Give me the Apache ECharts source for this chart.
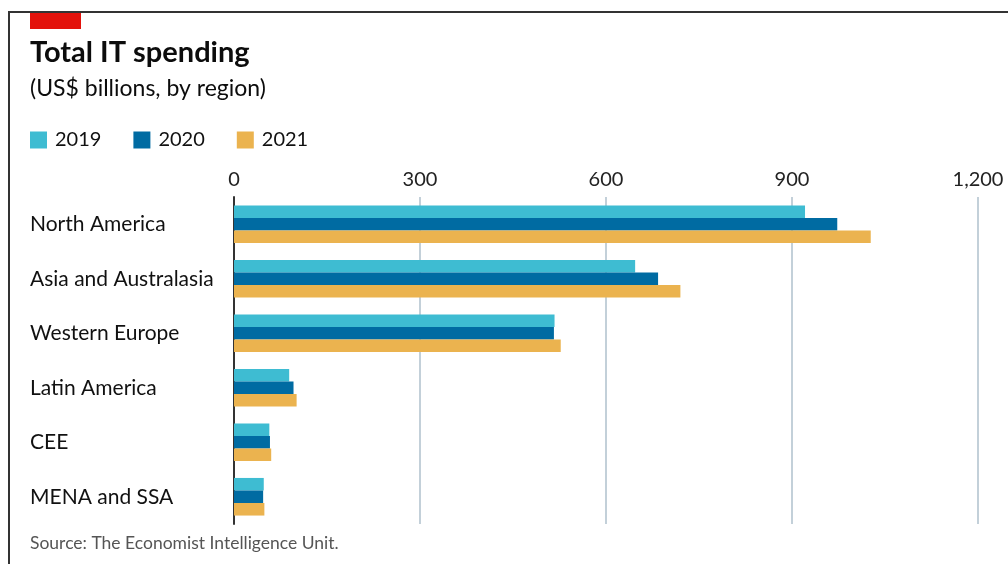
<!DOCTYPE html>
<html>
<head>
    <meta charset="UTF-8">
    <title>Total IT spending</title>
    <script src="https://cdn.jsdelivr.net/npm/echarts@6/dist/echarts.min.js"></script>
    <style>
        html, body { margin: 0; padding: 0; background: #fff; }
        #main { width: 1008px; height: 564px; }
    </style>
</head>
<body>
<div id="main"></div>
<script type="text/javascript">
    // data (US$ billions)
    var regions = ['North America', 'Asia and Australasia', 'Western Europe', 'Latin America', 'CEE', 'MENA and SSA'];
    var years = ['2019', '2020', '2021'];
    var spend2019 = [921, 647, 517, 89, 57, 48];
    var spend2020 = [973, 684, 516, 96, 58, 47];
    var spend2021 = [1027, 720, 527, 101, 60, 49];
    var xTicks = [0, 300, 600, 900, 1200];

    var colors = ['#3ebcd2', '#006ba2', '#ebb34f'];
    var font = 'Lato';

    var myChart = echarts.init(document.getElementById('main'));

    var option = {
        animation: false,
        color: colors,
        textStyle: { fontFamily: font },
        title: [
            {
                text: 'Total IT spending',
                left: 30, top: 38, padding: 0,
                textStyle: { fontSize: 29, fontWeight: 'bold', color: '#0c0c0c', fontFamily: font }
            },
            {
                text: '(US$ billions, by region)',
                left: 30, top: 77, padding: 0,
                textStyle: { fontSize: 23, fontWeight: 'normal', color: '#0c0c0c', fontFamily: font }
            },
            {
                text: 'Source: The Economist Intelligence Unit.',
                left: 30, top: 534, padding: 0,
                textStyle: { fontSize: 17.5, fontWeight: 'normal', color: '#555', fontFamily: font }
            }
        ],
        legend: {
            data: years,
            left: 30, top: 130, padding: 0,
            icon: 'rect',
            itemWidth: 17, itemHeight: 17,
            itemGap: 32,
            textStyle: { fontSize: 20, color: '#111', padding: [0, 0, 0, 3], fontFamily: font }
        },
        grid: { left: 234, width: 744, top: 197, height: 327 },
        xAxis: {
            type: 'value',
            position: 'top',
            min: xTicks[0],
            max: xTicks[xTicks.length - 1],
            interval: 300,
            axisLine: { show: false },
            axisTick: { show: false },
            axisLabel: {
                margin: 7,
                fontSize: 20,
                color: '#222',
                formatter: function (v) { return v.toLocaleString('en-US'); }
            },
            splitLine: { lineStyle: { color: '#c3d0d9', width: 2 } }
        },
        yAxis: {
            type: 'category',
            inverse: true,
            data: regions,
            axisLine: { lineStyle: { color: '#333', width: 2 } },
            axisTick: { show: false },
            axisLabel: { align: 'left', margin: 204, fontSize: 21, color: '#111' }
        },
        series: [
            { name: years[0], type: 'bar', data: spend2019, barGap: '0%', barCategoryGap: '31%' },
            { name: years[1], type: 'bar', data: spend2020, barGap: '0%', barCategoryGap: '31%' },
            { name: years[2], type: 'bar', data: spend2021, barGap: '0%', barCategoryGap: '31%' }
        ],
        graphic: [
            // red tag and frame
            { type: 'rect', left: 30, top: 12, shape: { width: 51, height: 17 }, style: { fill: '#e3120b' } },
            { type: 'polyline', shape: { points: [[9, 564], [9, 12], [1008, 12]] }, style: { stroke: '#333', lineWidth: 2, fill: null } }
        ]
    };

    myChart.setOption(option);
</script>
</body>
</html>
